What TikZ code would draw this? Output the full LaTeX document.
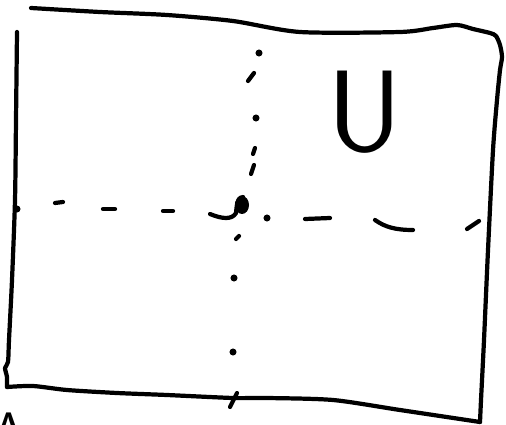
\documentclass[tikz,border=0pt]{standalone}
\usepackage{tikz}
\usetikzlibrary{positioning,calc}

\begin{document}
\begin{tikzpicture}[
    x=0.02cm, y=-0.02cm,
    pen/.style={line width=2.4pt, line cap=round, line join=round},
    tick/.style={pen},
    spot/.style={circle, fill, inner sep=0pt, minimum size=4pt},
    setname/.style={font=\sffamily\fontsize{66}{66}\selectfont, inner sep=0pt}
]
\useasboundingbox (0,0) rectangle (506,425);

% Frame of the universe
\draw[pen] plot[smooth, tension=0.45] coordinates {
    (17,32) (16,120) (15,200) (12,280) (9,340) (8,362) (5,368) (7,377) (7,387)};
\draw[pen] plot[smooth, tension=0.45] coordinates {
    (7,387) (33,386) (67,390) (117,393) (167,395) (233,398) (267,398)
    (333,400) (400,410) (480,422)};
\draw[pen] plot[smooth, tension=0.45] coordinates {
    (480,422) (481,400) (484,340) (488,250) (493,150) (497,100) (500,70)
    (502,57) (500,45) (496,36) (490,33) (473,29) (457,25) (433,28)
    (400,32) (300,32) (233,21) (167,15) (100,12) (31,8)};

% Centre point
\node[spot, minimum size=0pt] (origin) at (240,207) {};
\fill (242,205) ellipse (7 and 9);
\draw[pen] (210,214) .. controls (222,219) and (232,220) .. (236,213)
    .. controls (237,206) and (236,198) .. (243,197);

% Horizontal axis
\node[spot] (h1) at (17,209) {};
\draw[tick] (55,203) -- (63,202);
\draw[tick] (103,209) -- (115,209);
\draw[tick] (163,211) -- (173,211);
\node[spot] (h2) at (267,218) {};
\draw[tick] (305,219) -- (330,218);
\draw[tick] (375,220) .. controls (385,227) and (395,230) .. (413,230);
\draw[tick] (467,229) -- (479,221);

% Vertical axis
\node[spot] (v1) at (259,53) {};
\draw[tick] (248,81) -- (254,73);
\node[spot] (v2) at (256,118) {};
\draw[tick] (253,154) -- (255,148);
\draw[tick] (251,174) -- (254,165);
\draw[tick] (236,239) -- (239,236);
\node[spot] (v3) at (234,278) {};
\node[spot] (v4) at (233,352) {};
\draw[tick] (230,407) -- (237,393);

% Labels
\node[setname] (U) at (365,112) {U};
\node[font=\sffamily\fontsize{30}{30}\selectfont, anchor=north, inner sep=0pt] (A) at (9,413) {A};

\end{tikzpicture}
\end{document}
